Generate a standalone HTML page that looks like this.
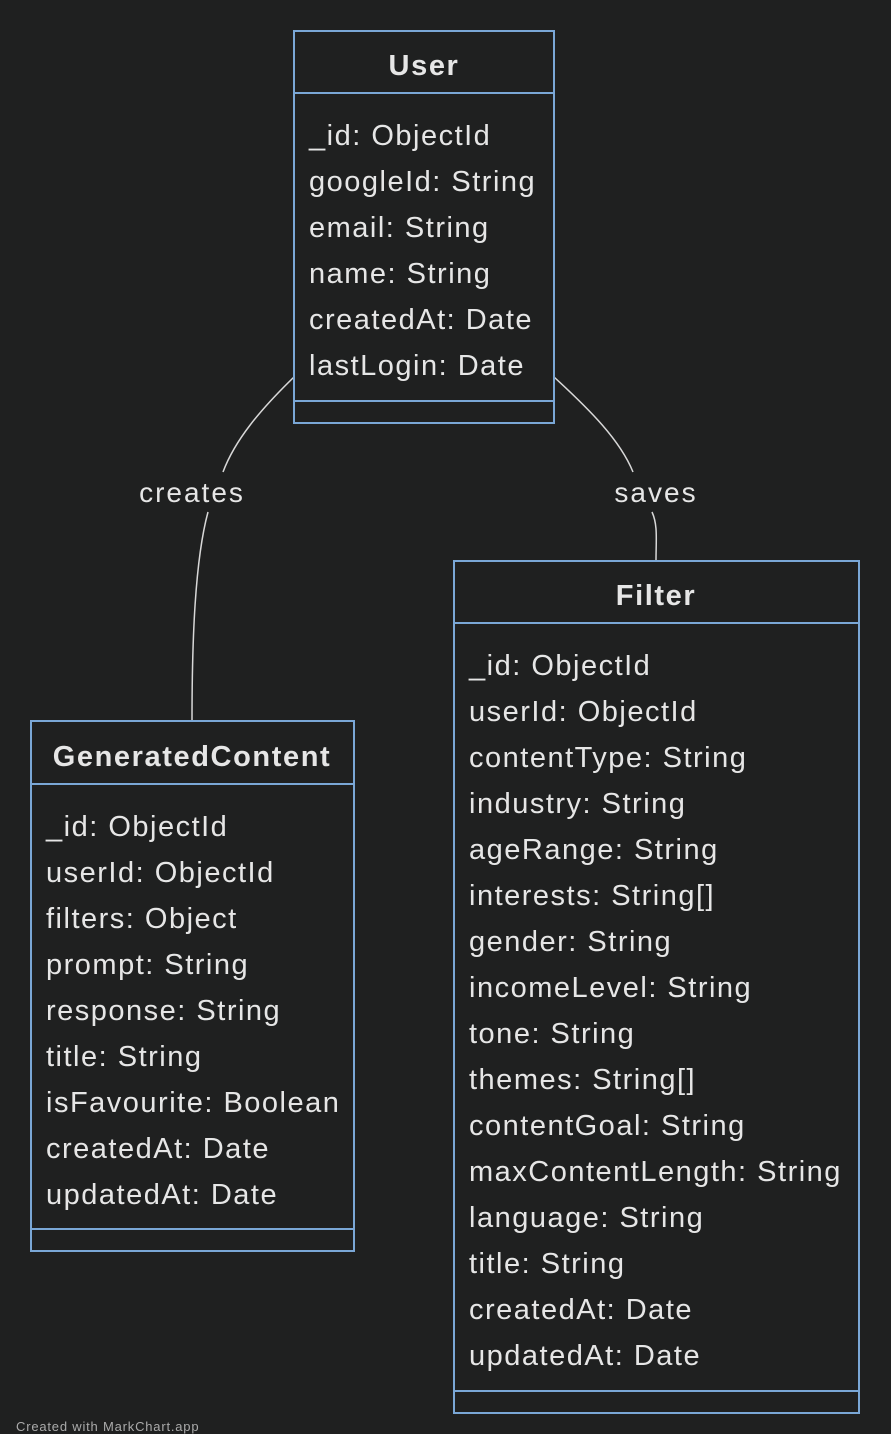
<!DOCTYPE html>
<html><head><style>
body{margin:0;background:#1f2020;}
svg{display:block}
text{font-family:"Liberation Sans",sans-serif;fill:#e6e6e6;}
</style></head><body>
<svg width="891" height="1434" xmlns="http://www.w3.org/2000/svg">
<rect width="891" height="1434" fill="#1f2020"/>
<g fill="none" stroke="#d8d8d8" stroke-width="1.5">
<path d="M294,377 C260,410 235,440 223,472"/>
<path d="M208,512 C195,560 192,640 192,721"/>
<path d="M554,377 C590,410 620,440 633,472"/>
<path d="M652,512 C658,525 656,540 656,561"/>
</g>
<text x="192" y="502" font-size="28" letter-spacing="2" text-anchor="middle">creates</text>
<text x="656" y="502" font-size="28" letter-spacing="2" text-anchor="middle">saves</text>
<g fill="#1f2020" stroke="#7aa7d6" stroke-width="2">
<rect x="294" y="31" width="260" height="392"/>
<line x1="294" y1="93" x2="554" y2="93"/>
<line x1="294" y1="401" x2="554" y2="401"/>
<rect x="31" y="721" width="323" height="530"/>
<line x1="31" y1="784" x2="354" y2="784"/>
<line x1="31" y1="1229" x2="354" y2="1229"/>
<rect x="454" y="561" width="405" height="852"/>
<line x1="454" y1="623" x2="859" y2="623"/>
<line x1="454" y1="1391" x2="859" y2="1391"/>
</g>
<g font-size="29" font-weight="bold" text-anchor="middle" letter-spacing="1.6">
<text x="424" y="75">User</text>
<text x="192" y="766">GeneratedContent</text>
<text x="656" y="605">Filter</text>
</g>
<g font-size="29" letter-spacing="1.5">
<text x="309" y="145">_id: ObjectId</text>
<text x="309" y="191">googleId: String</text>
<text x="309" y="237">email: String</text>
<text x="309" y="283">name: String</text>
<text x="309" y="329">createdAt: Date</text>
<text x="309" y="375">lastLogin: Date</text>

<text x="46" y="836">_id: ObjectId</text>
<text x="46" y="882">userId: ObjectId</text>
<text x="46" y="928">filters: Object</text>
<text x="46" y="974">prompt: String</text>
<text x="46" y="1020">response: String</text>
<text x="46" y="1066">title: String</text>
<text x="46" y="1112">isFavourite: Boolean</text>
<text x="46" y="1158">createdAt: Date</text>
<text x="46" y="1204">updatedAt: Date</text>

<text x="469" y="675">_id: ObjectId</text>
<text x="469" y="721">userId: ObjectId</text>
<text x="469" y="767">contentType: String</text>
<text x="469" y="813">industry: String</text>
<text x="469" y="859">ageRange: String</text>
<text x="469" y="905">interests: String[]</text>
<text x="469" y="951">gender: String</text>
<text x="469" y="997">incomeLevel: String</text>
<text x="469" y="1043">tone: String</text>
<text x="469" y="1089">themes: String[]</text>
<text x="469" y="1135">contentGoal: String</text>
<text x="469" y="1181">maxContentLength: String</text>
<text x="469" y="1227">language: String</text>
<text x="469" y="1273">title: String</text>
<text x="469" y="1319">createdAt: Date</text>
<text x="469" y="1365">updatedAt: Date</text>
</g>
<text x="16" y="1431" font-size="13" letter-spacing="0.8" style="fill:#aaaaaa">Created with MarkChart.app</text>
</svg>
</body></html>
